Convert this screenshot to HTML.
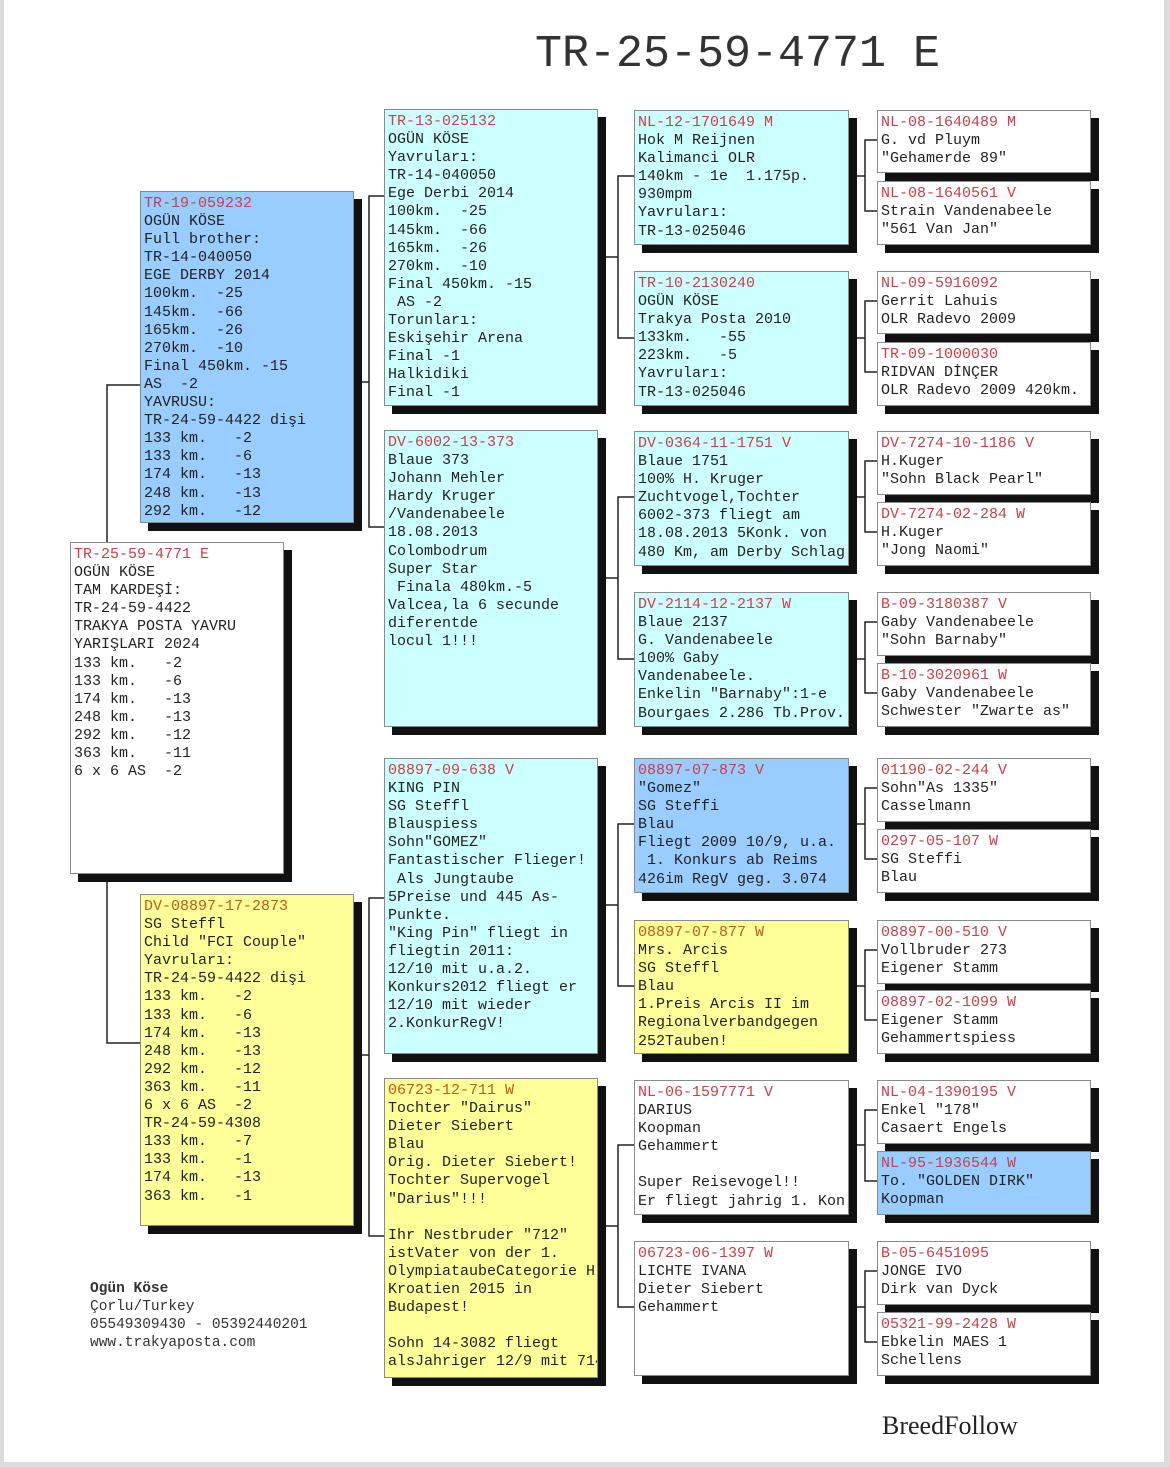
<!DOCTYPE html>
<html><head><meta charset="utf-8">
<style>
html,body{margin:0;padding:0}
body{width:1170px;height:1467px;background:#dcdcdc;position:relative;overflow:hidden;font-family:"Liberation Mono","DejaVu Sans Mono",monospace}
#page{position:absolute;left:4px;top:0;width:1160px;height:1462px;background:#fff}
.b{position:absolute;box-sizing:border-box;border:1px solid #8a8a8a;box-shadow:8px 8px 0 #111;font-size:15px;line-height:18.1px;color:#222;padding:3px 0 0 3px;white-space:pre;overflow:hidden}
.r{color:#c8404a}
.o{color:#c05a20}
.c{background:#ccffff}
.bl{background:#99ccff}
.y{background:#ffff99}
.w{background:#fff}
svg{position:absolute;left:0;top:0}
.t{position:absolute;left:535px;top:29px;font-size:45px;color:#333;white-space:pre;letter-spacing:0px}
.f{position:absolute;left:90px;top:1280px;font-size:14.5px;line-height:18px;color:#333;white-space:pre}
.bf{position:absolute;left:882px;top:1411px;font-family:"Liberation Serif",serif;font-size:26px;color:#222}
</style></head><body>
<div id="page"></div>
<svg width="1170" height="1467" stroke="#222" stroke-width="1.5" fill="none">
<path d="M140 385H107V1043H140"/>
<path d="M353 382H369M384 196H369V527H384"/>
<path d="M353 1055H369M384 898H369V1236H384"/>
<path d="M597 257H618M634 176H618V338H634"/>
<path d="M597 578H618M634 497H618V659H634"/>
<path d="M597 905H618M634 824H618V986H634"/>
<path d="M597 1226H618M634 1145H618V1307H634"/>
<path d="M848 176H865M877 140H865V211H877"/>
<path d="M848 338H865M877 301H865V372H877"/>
<path d="M848 497H865M877 461H865V532H877"/>
<path d="M848 659H865M877 622H865V693H877"/>
<path d="M848 824H865M877 788H865V859H877"/>
<path d="M848 986H865M877 950H865V1020H877"/>
<path d="M848 1145H865M877 1110H865V1181H877"/>
<path d="M848 1307H865M877 1271H865V1342H877"/>
</svg>
<div class="t">TR-25-59-4771 E</div>

<div class="b w" style="left:70px;top:542px;width:214px;height:332px"><span class="r">TR-25-59-4771 E</span>
OGÜN KÖSE
TAM KARDEŞİ:
TR-24-59-4422
TRAKYA POSTA YAVRU
YARIŞLARI 2024
133 km.   -2
133 km.   -6
174 km.   -13
248 km.   -13
292 km.   -12
363 km.   -11
6 x 6 AS  -2</div>

<div class="b bl" style="left:140px;top:191px;width:214px;height:332px"><span class="r">TR-19-059232</span>
OGÜN KÖSE
Full brother:
TR-14-040050
EGE DERBY 2014
100km.  -25
145km.  -66
165km.  -26
270km.  -10
Final 450km. -15
AS  -2
YAVRUSU:
TR-24-59-4422 dişi
133 km.   -2
133 km.   -6
174 km.   -13
248 km.   -13
292 km.   -12</div>

<div class="b y" style="left:140px;top:894px;width:214px;height:332px"><span class="o">DV-08897-17-2873</span>
SG Steffl
Child "FCI Couple"
Yavruları:
TR-24-59-4422 dişi
133 km.   -2
133 km.   -6
174 km.   -13
248 km.   -13
292 km.   -12
363 km.   -11
6 x 6 AS  -2
TR-24-59-4308
133 km.   -7
133 km.   -1
174 km.   -13
363 km.   -1</div>

<div class="b c" style="left:384px;top:109px;width:214px;height:297px"><span class="r">TR-13-025132</span>
OGÜN KÖSE
Yavruları:
TR-14-040050
Ege Derbi 2014
100km.  -25
145km.  -66
165km.  -26
270km.  -10
Final 450km. -15
 AS -2
Torunları:
Eskişehir Arena
Final -1
Halkidiki
Final -1</div>

<div class="b c" style="left:384px;top:430px;width:214px;height:297px"><span class="r">DV-6002-13-373</span>
Blaue 373
Johann Mehler
Hardy Kruger
/Vandenabeele
18.08.2013
Colombodrum
Super Star
 Finala 480km.-5
Valcea,la 6 secunde
diferentde
locul 1!!!</div>

<div class="b c" style="left:384px;top:758px;width:214px;height:296px"><span class="r">08897-09-638 V</span>
KING PIN
SG Steffl
Blauspiess
Sohn"GOMEZ"
Fantastischer Flieger!
 Als Jungtaube
5Preise und 445 As-
Punkte.
"King Pin" fliegt in
fliegtin 2011:
12/10 mit u.a.2.
Konkurs2012 fliegt er
12/10 mit wieder
2.KonkurRegV!</div>

<div class="b y" style="left:384px;top:1078px;width:214px;height:300px"><span class="o">06723-12-711 W</span>
Tochter "Dairus"
Dieter Siebert
Blau
Orig. Dieter Siebert!
Tochter Supervogel
"Darius"!!!

Ihr Nestbruder "712"
istVater von der 1.
OlympiataubeCategorie H
Kroatien 2015 in
Budapest!

Sohn 14-3082 fliegt
alsJahriger 12/9 mit 714</div>

<div class="b c" style="left:634px;top:110px;width:215px;height:135px"><span class="r">NL-12-1701649 M</span>
Hok M Reijnen
Kalimanci OLR
140km - 1e  1.175p.
930mpm
Yavruları:
TR-13-025046</div>
<div class="b c" style="left:634px;top:271px;width:215px;height:135px"><span class="r">TR-10-2130240</span>
OGÜN KÖSE
Trakya Posta 2010
133km.   -55
223km.   -5
Yavruları:
TR-13-025046</div>
<div class="b c" style="left:634px;top:431px;width:215px;height:135px"><span class="r">DV-0364-11-1751 V</span>
Blaue 1751
100% H. Kruger
Zuchtvogel,Tochter
6002-373 fliegt am
18.08.2013 5Konk. von
480 Km, am Derby Schlag</div>
<div class="b c" style="left:634px;top:592px;width:215px;height:135px"><span class="r">DV-2114-12-2137 W</span>
Blaue 2137
G. Vandenabeele
100% Gaby
Vandenabeele.
Enkelin "Barnaby":1-e
Bourgaes 2.286 Tb.Prov.</div>
<div class="b bl" style="left:634px;top:758px;width:215px;height:135px"><span class="r">08897-07-873 V</span>
"Gomez"
SG Steffi
Blau
Fliegt 2009 10/9, u.a.
 1. Konkurs ab Reims
426im RegV geg. 3.074</div>
<div class="b y" style="left:634px;top:920px;width:215px;height:134px"><span class="o">08897-07-877 W</span>
Mrs. Arcis
SG Steffl
Blau
1.Preis Arcis II im
Regionalverbandgegen
252Tauben!</div>
<div class="b w" style="left:634px;top:1080px;width:215px;height:135px"><span class="r">NL-06-1597771 V</span>
DARIUS
Koopman
Gehammert

Super Reisevogel!!
Er fliegt jahrig 1. Kon</div>
<div class="b w" style="left:634px;top:1241px;width:215px;height:135px"><span class="r">06723-06-1397 W</span>
LICHTE IVANA
Dieter Siebert
Gehammert</div>

<div class="b w" style="left:877px;top:110px;width:214px;height:63px"><span class="r">NL-08-1640489 M</span>
G. vd Pluym
"Gehamerde 89"</div>
<div class="b w" style="left:877px;top:181px;width:214px;height:64px"><span class="r">NL-08-1640561 V</span>
Strain Vandenabeele
"561 Van Jan"</div>
<div class="b w" style="left:877px;top:271px;width:214px;height:63px"><span class="r">NL-09-5916092</span>
Gerrit Lahuis
OLR Radevo 2009</div>
<div class="b w" style="left:877px;top:342px;width:214px;height:64px"><span class="r">TR-09-1000030</span>
RIDVAN DİNÇER
OLR Radevo 2009 420km.</div>
<div class="b w" style="left:877px;top:431px;width:214px;height:64px"><span class="r">DV-7274-10-1186 V</span>
H.Kuger
"Sohn Black Pearl"</div>
<div class="b w" style="left:877px;top:502px;width:214px;height:64px"><span class="r">DV-7274-02-284 W</span>
H.Kuger
"Jong Naomi"</div>
<div class="b w" style="left:877px;top:592px;width:214px;height:64px"><span class="r">B-09-3180387 V</span>
Gaby Vandenabeele
"Sohn Barnaby"</div>
<div class="b w" style="left:877px;top:663px;width:214px;height:64px"><span class="r">B-10-3020961 W</span>
Gaby Vandenabeele
Schwester "Zwarte as"</div>
<div class="b w" style="left:877px;top:758px;width:214px;height:64px"><span class="r">01190-02-244 V</span>
Sohn"As 1335"
Casselmann</div>
<div class="b w" style="left:877px;top:829px;width:214px;height:64px"><span class="r">0297-05-107 W</span>
SG Steffi
Blau</div>
<div class="b w" style="left:877px;top:920px;width:214px;height:64px"><span class="r">08897-00-510 V</span>
Vollbruder 273
Eigener Stamm</div>
<div class="b w" style="left:877px;top:990px;width:214px;height:64px"><span class="r">08897-02-1099 W</span>
Eigener Stamm
Gehammertspiess</div>
<div class="b w" style="left:877px;top:1080px;width:214px;height:64px"><span class="r">NL-04-1390195 V</span>
Enkel "178"
Casaert Engels</div>
<div class="b bl" style="left:877px;top:1151px;width:214px;height:64px"><span class="r">NL-95-1936544 W</span>
To. "GOLDEN DIRK"
Koopman</div>
<div class="b w" style="left:877px;top:1241px;width:214px;height:64px"><span class="r">B-05-6451095</span>
JONGE IVO
Dirk van Dyck</div>
<div class="b w" style="left:877px;top:1312px;width:214px;height:64px"><span class="r">05321-99-2428 W</span>
Ebkelin MAES 1
Schellens</div>

<div class="f"><b>Ogün Köse</b>
Çorlu/Turkey
05549309430 - 05392440201
www.trakyaposta.com</div>
<div class="bf">BreedFollow</div>
</body></html>
